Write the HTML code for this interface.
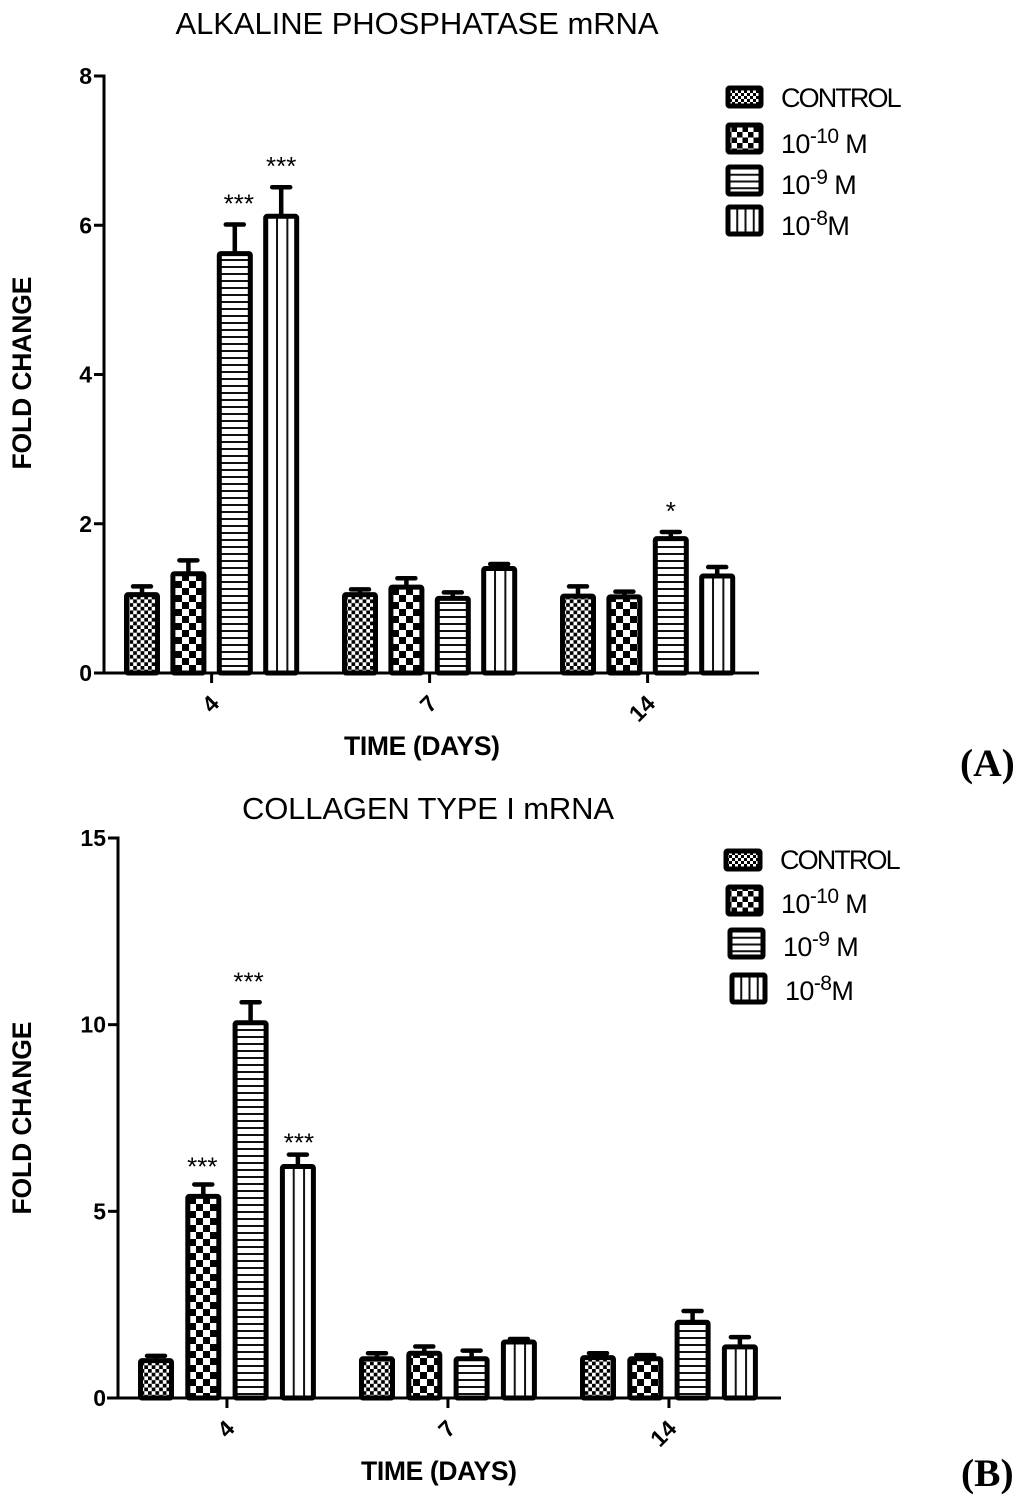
<!DOCTYPE html>
<html>
<head>
<meta charset="utf-8">
<style>
html,body{margin:0;padding:0;background:#fff;}
svg{display:block;font-family:"Liberation Sans",sans-serif;}
</style>
</head>
<body>
<svg id="fig" xmlns="http://www.w3.org/2000/svg" width="1024" height="1504" viewBox="0 0 1024 1504">
<defs>
<pattern id="p-fine" patternUnits="userSpaceOnUse" width="7.4" height="7.4"><rect width="7.4" height="7.4" fill="#fff"/><rect width="3.7" height="3.7" fill="#000"/><rect x="3.7" y="3.7" width="3.7" height="3.7" fill="#000"/></pattern>
<pattern id="p-coarse" patternUnits="userSpaceOnUse" width="14" height="14"><rect width="14" height="14" fill="#fff"/><rect width="7" height="7" fill="#000"/><rect x="7" y="7" width="7" height="7" fill="#000"/></pattern>
<pattern id="p-horiz" patternUnits="userSpaceOnUse" width="10" height="7"><rect width="10" height="7" fill="#fff"/><rect y="0" width="10" height="2" fill="#111"/></pattern>
<pattern id="p-vert" patternUnits="objectBoundingBox" width="0.3333" height="1"><rect width="12" height="1000" fill="#fff"/><rect x="0" width="2" height="1000" fill="#111"/></pattern>
<pattern id="l-fine" patternUnits="userSpaceOnUse" width="6" height="6"><rect width="6" height="6" fill="#fff"/><rect width="3" height="3" fill="#000"/><rect x="3" y="3" width="3" height="3" fill="#000"/></pattern>
<pattern id="l-coarse" patternUnits="userSpaceOnUse" width="11" height="11"><rect width="11" height="11" fill="#fff"/><rect width="5.5" height="5.5" fill="#000"/><rect x="5.5" y="5.5" width="5.5" height="5.5" fill="#000"/></pattern>
<pattern id="l-horiz" patternUnits="objectBoundingBox" width="1" height="0.25"><rect width="100" height="100" fill="#fff"/><rect y="0" width="100" height="2" fill="#111"/></pattern>
<pattern id="l-vert" patternUnits="objectBoundingBox" width="0.25" height="1"><rect width="100" height="100" fill="#fff"/><rect x="0" width="2" height="100" fill="#111"/></pattern>
</defs>
<g id="chart-a"></g>
<g id="chart-b"></g>
<text x="960" y="776" font-family="Liberation Serif" font-weight="bold" font-size="39.5">(A)</text>
<text x="961" y="1486" font-family="Liberation Serif" font-weight="bold" font-size="39.5">(B)</text>
</svg>
<script>
var categories = ['4', '7', '14'];
var seriesNames = ['control', '10-10', '10-9', '10-8'];

var aTicks = [0, 2, 4, 6, 8];
var aControl = [1.05, 1.05, 1.03];
var aDose10 = [1.33, 1.15, 1.02];
var aDose9 = [5.62, 1.0, 1.8];
var aDose8 = [6.12, 1.4, 1.3];
var aControlErr = [0.11, 0.07, 0.13];
var aDose10Err = [0.18, 0.12, 0.07];
var aDose9Err = [0.39, 0.08, 0.09];
var aDose8Err = [0.39, 0.06, 0.12];
var aStars = [['', '', '***', '***'], ['', '', '', ''], ['', '', '*', '']];

var bTicks = [0, 5, 10, 15];
var bControl = [1.0, 1.05, 1.08];
var bDose10 = [5.4, 1.2, 1.05];
var bDose9 = [10.05, 1.05, 2.03];
var bDose8 = [6.2, 1.5, 1.37];
var bControlErr = [0.13, 0.15, 0.12];
var bDose10Err = [0.32, 0.18, 0.1];
var bDose9Err = [0.55, 0.22, 0.3];
var bDose8Err = [0.32, 0.08, 0.26];
var bStars = [['', '***', '***', '***'], ['', '', '', ''], ['', '', '', '']];

var NS = 'http://www.w3.org/2000/svg';
var fills = ['url(#p-fine)', 'url(#p-coarse)', 'url(#p-horiz)', 'url(#p-vert)'];
var legendFills = ['url(#l-fine)', 'url(#l-coarse)', 'url(#l-horiz)', 'url(#l-vert)'];

function mk(parent, tag, attrs, text) {
  var el = document.createElementNS(NS, tag);
  for (var k in attrs) el.setAttribute(k, attrs[k]);
  if (text !== undefined) el.textContent = text;
  parent.appendChild(el);
  return el;
}

function drawChart(root, cfg) {
  function yScale(v) { return cfg.y0 - v * (cfg.y0 - cfg.yTop) / cfg.yMax; }
  function xScale(g, s) { return cfg.x0 + g * cfg.groupStep + s * cfg.barStep; }

  var title = mk(root, 'text', {x: cfg.titleX, y: cfg.titleY, 'text-anchor': 'middle', 'font-size': 31, textLength: cfg.titleLen}, cfg.title);
  
  

  cfg.series.forEach(function (vals, s) {
    vals.forEach(function (v, g) {
      var cx = xScale(g, s), top = yScale(v), errTop = yScale(v + cfg.errors[s][g]);
      var stem = mk(root, 'line', {x1: cx, x2: cx, y1: top, y2: errTop, stroke: '#000', 'stroke-width': 4.5});
      
      
      var cap = mk(root, 'line', {x1: cx - 9, x2: cx + 9, y1: errTop, y2: errTop, stroke: '#000', 'stroke-width': 4.5, 'stroke-linecap': 'round'});
      
      
      var bar = mk(root, 'rect', {x: cx - 15.5, y: top, width: 31, height: cfg.y0 - top, fill: fills[s], stroke: '#000', 'stroke-width': 5, rx: 1.5});
      
      
      var star = cfg.stars[g][s];
      if (star) {
        var shift = star.length > 1 ? cfg.starShift[s] : 0;
        var st = mk(root, 'text', {x: cx + shift, y: errTop - cfg.starGap[s], 'text-anchor': 'middle', 'font-size': 26}, star);
        
        
      }
    });
  });

  var yAxis = mk(root, 'line', {x1: cfg.axisX, x2: cfg.axisX, y1: yScale(cfg.yMax) - 1.5, y2: cfg.y0 + 1.5, stroke: '#000', 'stroke-width': 3});
  
  
  var xAxis = mk(root, 'line', {x1: cfg.xAxisStart, x2: cfg.xAxisEnd, y1: cfg.y0, y2: cfg.y0, stroke: '#000', 'stroke-width': 3});
  
  

  cfg.ticks.forEach(function (t) {
    var ty = yScale(t);
    var tick = mk(root, 'line', {x1: cfg.axisX - 10, x2: cfg.axisX, y1: ty, y2: ty, stroke: '#000', 'stroke-width': 3});
    
    
    var lab = mk(root, 'text', {x: cfg.axisX - 12, y: ty + 8, 'text-anchor': 'end', 'font-size': 23, 'font-weight': 'bold'}, t);
    
    
  });

  categories.forEach(function (c, g) {
    var gx = (xScale(g, 1) + xScale(g, 2)) / 2;
    var tick = mk(root, 'line', {x1: gx, x2: gx, y1: cfg.y0, y2: cfg.y0 + 10, stroke: '#000', 'stroke-width': 3});
    
    
    var tx = gx + 9, ty = cfg.y0 + 32;
    var lab = mk(root, 'text', {x: tx, y: ty, 'text-anchor': 'end', 'font-size': 23, 'font-weight': 'bold', transform: 'rotate(-45 ' + tx + ' ' + ty + ')'}, c);
    
    
  });

  var xt = mk(root, 'text', {x: cfg.xTitleX, y: cfg.xTitleY, 'text-anchor': 'middle', 'font-size': 26.5, 'font-weight': 'bold', textLength: 156}, 'TIME (DAYS)');
  
  
  var yt = mk(root, 'text', {x: 0, y: 0, 'text-anchor': 'middle', 'font-size': 26.5, 'font-weight': 'bold', textLength: 193, transform: 'translate(' + cfg.yTitleX + ' ' + cfg.yTitleY + ') rotate(-90)'}, 'FOLD CHANGE');
  
  

  cfg.legend.forEach(function (e, i) {
    var sw = mk(root, 'rect', {x: e.sx, y: e.sy, width: e.sw, height: e.sh, fill: legendFills[i], stroke: '#000', 'stroke-width': 5, rx: 1.5});
    
    
    var attrs = {x: e.tx, y: e.ty, 'font-size': 27, 'letter-spacing': '-0.6'};
    if (!e.sup) attrs.textLength = 120;
    var txt = mk(root, 'text', attrs, e.base);
    
    
    if (e.sup) {
      mk(txt, 'tspan', {dy: -10, 'font-size': 21}, e.sup);
      mk(txt, 'tspan', {dy: 10}, e.tail);
    }
  });
}

drawChart(document.getElementById('chart-a'), {
  title: 'ALKALINE PHOSPHATASE mRNA', titleX: 417, titleY: 34, titleLen: 483,
  y0: 673, yTop: 76, yMax: 8, ticks: aTicks,
  x0: 142, groupStep: 218, barStep: 46.4, axisX: 104, xAxisStart: 96, xAxisEnd: 759,
  series: [aControl, aDose10, aDose9, aDose8],
  errors: [aControlErr, aDose10Err, aDose9Err, aDose8Err],
  stars: aStars, starGap: [12, 12, 12, 12], starShift: [0, 0, 4, 0],
  xTitleX: 422, xTitleY: 755, yTitleX: 31, yTitleY: 373,
  legend: [
    {sx: 728, sy: 88, sw: 33, sh: 18, tx: 781, ty: 107, base: 'CONTROL'},
    {sx: 728, sy: 125, sw: 33, sh: 27, tx: 781, ty: 153, base: '10', sup: '-10', tail: ' M'},
    {sx: 728, sy: 167, sw: 33, sh: 27, tx: 781, ty: 194, base: '10', sup: '-9', tail: ' M'},
    {sx: 728, sy: 207, sw: 33, sh: 27, tx: 781, ty: 235, base: '10', sup: '-8', tail: 'M'}
  ]
});

drawChart(document.getElementById('chart-b'), {
  title: 'COLLAGEN TYPE I mRNA', titleX: 428, titleY: 819, titleLen: 372,
  y0: 1398, yTop: 838, yMax: 15, ticks: bTicks,
  x0: 156, groupStep: 221, barStep: 47.3, axisX: 118, xAxisStart: 107, xAxisEnd: 781,
  series: [bControl, bDose10, bDose9, bDose8],
  errors: [bControlErr, bDose10Err, bDose9Err, bDose8Err],
  stars: bStars, starGap: [12, 9, 12, 3], starShift: [0, -1, -2, 1],
  xTitleX: 439, xTitleY: 1480, yTitleX: 31, yTitleY: 1118,
  legend: [
    {sx: 726, sy: 851, sw: 34, sh: 18, tx: 780, ty: 869, base: 'CONTROL'},
    {sx: 728, sy: 887, sw: 33, sh: 27, tx: 781, ty: 913, base: '10', sup: '-10', tail: ' M'},
    {sx: 730, sy: 930, sw: 33, sh: 27, tx: 783, ty: 956, base: '10', sup: '-9', tail: ' M'},
    {sx: 732, sy: 975, sw: 33, sh: 27, tx: 785, ty: 1000, base: '10', sup: '-8', tail: 'M'}
  ]
});
</script>
</body>
</html>
